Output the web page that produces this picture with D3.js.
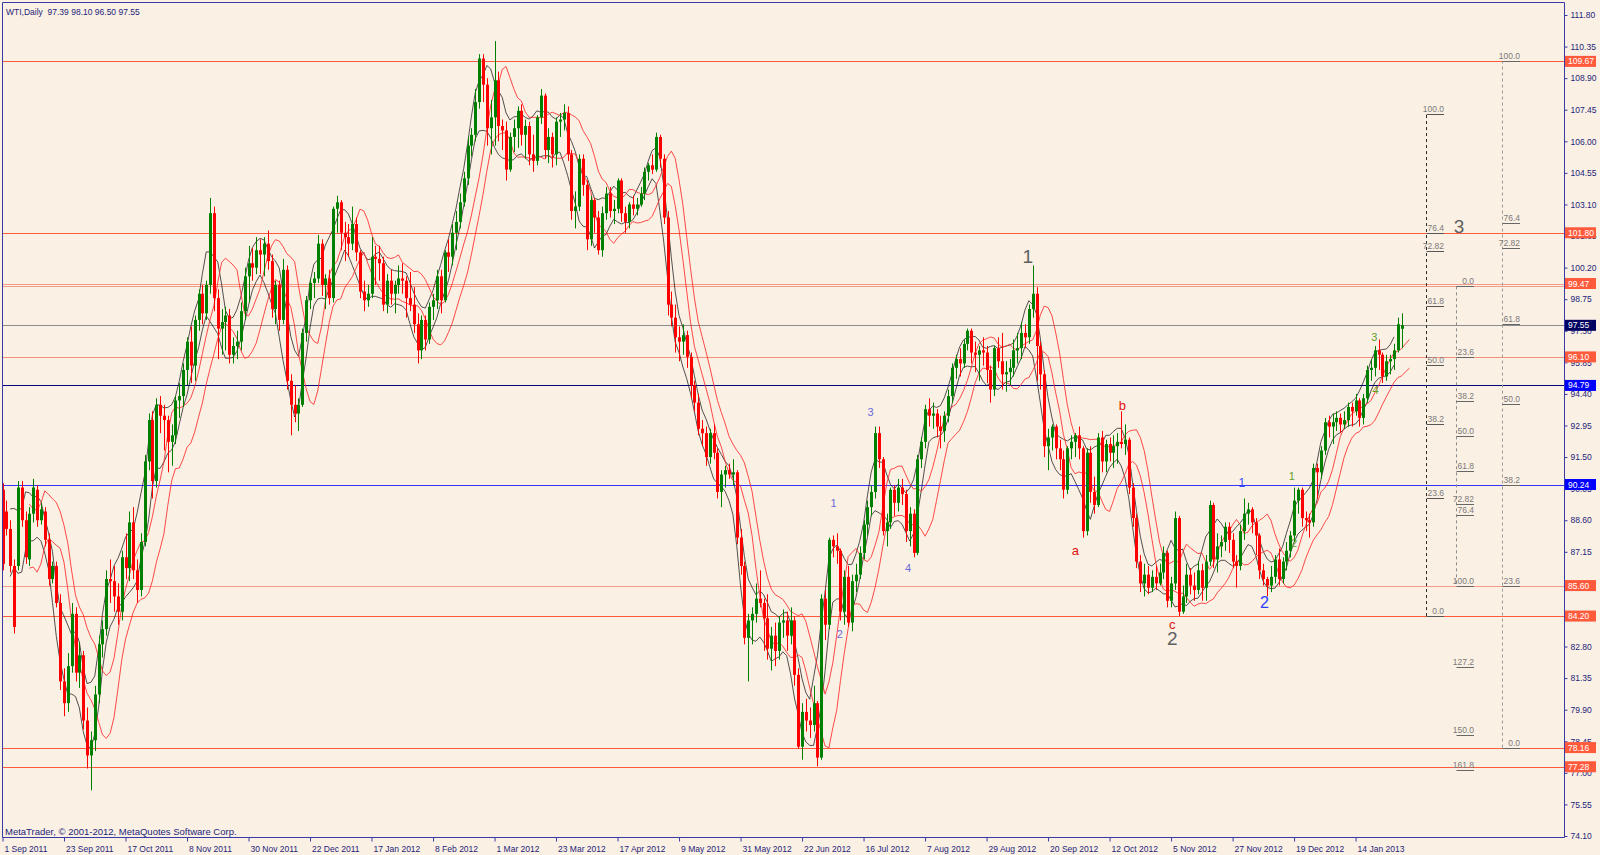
<!DOCTYPE html>
<html><head><meta charset="utf-8">
<script src="https://cdn.jsdelivr.net/npm/d3@7"></script>
<style>body{margin:0;background:#FAF0E4}svg text{font-family:"Liberation Sans",Arial,sans-serif}</style>
</head><body>
<svg id="c" width="1600" height="855"></svg>
<script>
// ---------- DATA ----------
const dateLabels = ["1 Sep 2011","23 Sep 2011","17 Oct 2011","8 Nov 2011","30 Nov 2011","22 Dec 2011","17 Jan 2012","8 Feb 2012","1 Mar 2012","23 Mar 2012","17 Apr 2012","9 May 2012","31 May 2012","22 Jun 2012","16 Jul 2012","7 Aug 2012","29 Aug 2012","20 Sep 2012","12 Oct 2012","5 Nov 2012","27 Nov 2012","19 Dec 2012","14 Jan 2013"];
const dateLabelBars = [0,16,32,48,64,80,96,112,128,144,160,176,192,208,224,240,256,272,288,304,320,336,352];
const priceTicks = [111.80,110.35,108.90,107.45,106.00,104.55,103.10,101.65,100.20,98.75,97.30,95.85,94.40,92.95,91.50,90.05,88.60,87.15,85.70,84.25,82.80,81.35,79.90,78.45,77.00,75.55,74.10];

const opens = [
90.0,89.0,88.2,86.5,86.5,90.1,88.6,86.8,88.9,90.0,88.6,89.0,87.7,85.9,86.5,84.8,
81.2,80.2,81.9,84.3,81.6,82.4,79.4,77.8,78.5,80.6,82.9,83.6,85.9,85.8,85.1,84.4,
86.9,86.4,88.5,86.3,85.4,87.6,91.3,93.2,90.4,93.9,93.4,93.2,92.2,92.5,94.1,94.3,
95.5,96.8,95.7,97.8,99.0,98.1,99.4,102.7,98.8,97.4,97.7,98.0,96.2,96.6,96.8,98.2,
99.8,100.4,100.2,101.0,100.8,101.3,100.5,98.3,99.4,97.8,100.1,95.0,93.9,93.5,93.9,97.2,
98.7,99.5,99.7,101.3,99.4,99.7,98.8,102.9,103.2,101.8,101.6,101.3,102.2,100.9,99.1,98.7,
99.0,100.7,100.6,100.4,98.5,99.6,99.0,99.4,99.7,99.6,98.8,98.5,97.6,96.4,97.8,96.9,
98.4,98.7,99.8,98.7,100.9,100.7,101.8,102.3,103.2,104.3,105.8,106.3,107.8,109.8,108.6,106.6,
107.1,108.8,106.7,106.5,104.7,106.2,106.6,107.4,106.3,106.7,105.4,105.1,107.1,108.1,105.6,106.2,
105.4,106.9,107.0,107.3,105.4,102.8,103.0,105.2,104.0,101.5,103.3,102.5,101.0,102.7,103.6,102.8,
102.9,104.2,102.7,102.3,103.1,102.9,103.1,103.6,104.6,104.9,104.7,106.2,105.2,102.5,98.5,97.9,
97.0,96.8,97.1,96.1,94.8,94.0,92.8,92.6,91.5,92.6,91.7,89.9,90.7,90.9,90.7,90.8,
87.8,86.5,83.2,84.0,84.3,85.0,84.8,84.1,82.7,83.3,82.6,83.9,84.0,83.3,84.0,81.5,
78.2,79.8,79.4,79.2,80.2,77.7,85.0,83.8,87.7,87.4,87.2,84.4,86.0,83.9,85.8,86.1,
87.1,88.4,89.2,89.9,92.6,91.4,88.1,88.5,90.0,89.4,90.1,89.8,88.1,88.9,87.1,91.4,
92.2,93.7,93.4,93.5,92.9,92.7,93.4,94.3,95.6,96.0,95.8,96.7,97.3,96.3,96.2,96.4,
96.3,95.5,94.6,96.5,95.9,95.3,95.4,95.6,96.4,96.5,97.2,97.0,98.3,99.0,96.6,95.3,
92.0,92.4,92.9,91.9,91.4,90.0,91.9,92.2,92.5,91.9,88.1,91.7,89.9,89.3,92.4,91.3,
92.1,91.7,92.0,92.2,92.1,92.3,90.1,88.7,86.7,85.7,86.1,85.5,86.0,85.7,86.2,87.1,
84.9,85.7,88.7,84.4,85.1,86.1,85.6,85.4,86.3,85.5,86.7,89.3,86.8,87.4,87.6,88.3,
87.7,86.7,86.5,88.1,88.9,89.1,88.5,87.9,86.3,85.9,85.6,86.0,86.8,85.9,86.7,87.2,
87.9,89.5,90.0,88.7,88.6,88.5,91.0,90.8,91.8,93.1,92.9,93.1,93.3,93.0,93.2,93.8,
93.6,94.1,93.3,94.2,95.5,95.6,96.4,96.2,95.2,95.9,96.0,96.4,97.39];
const highs = [
90.3,89.5,88.6,86.8,90.4,90.4,89.0,89.2,90.5,90.2,89.4,89.2,88.0,86.7,86.7,85.2,
81.8,82.5,84.8,84.6,83.0,82.6,80.0,78.9,81.0,83.3,84.0,86.3,86.8,86.5,85.7,87.2,
88.0,89.0,89.2,86.8,88.0,91.6,93.5,93.6,94.2,94.3,93.9,93.4,93.0,94.3,94.9,95.8,
97.0,97.5,98.0,99.2,99.4,99.6,103.4,103.0,99.2,98.3,98.4,98.3,97.0,97.3,98.6,100.2,
101.2,101.1,101.6,101.5,101.6,101.9,100.8,99.6,99.6,100.6,100.3,95.3,94.8,94.2,97.4,98.9,
99.7,100.0,101.7,101.5,99.9,100.1,103.0,103.5,103.3,102.3,102.2,103.0,102.5,101.0,99.6,99.4,
101.6,101.2,101.2,100.7,99.9,100.1,99.6,100.3,100.4,99.8,100.0,99.3,98.1,98.0,98.0,98.6,
99.0,100.1,100.1,101.0,101.5,102.2,102.8,103.6,104.6,106.2,106.6,108.4,110.0,110.0,108.9,107.9,
110.6,109.2,107.0,106.9,106.4,107.0,107.6,107.7,107.0,106.9,106.3,107.2,108.4,108.2,106.6,106.4,
107.1,107.3,107.7,107.6,105.6,103.7,105.4,105.4,104.2,103.5,103.4,102.8,103.0,103.9,103.9,103.3,
104.3,104.3,103.0,103.2,103.5,103.4,103.9,104.8,105.0,105.4,106.4,106.3,105.4,102.8,99.1,98.5,
97.5,97.6,97.3,96.3,95.0,94.4,93.2,92.9,92.8,93.0,91.9,90.9,91.1,91.2,91.4,90.9,
88.2,86.7,84.3,84.6,85.7,86.3,85.0,85.2,83.7,83.9,84.2,84.5,84.4,84.6,84.2,81.8,
80.2,80.4,80.0,81.0,80.3,85.2,85.4,87.8,87.9,88.0,87.3,86.3,86.5,86.1,86.6,87.4,
88.6,89.5,90.2,92.9,92.9,91.5,88.9,90.1,90.2,90.5,90.5,90.0,89.2,89.1,91.6,92.4,
93.9,94.2,94.0,93.7,93.4,93.6,94.6,95.8,96.2,96.5,96.9,97.4,97.4,96.8,96.6,97.0,
96.6,95.7,96.6,97.0,97.2,95.9,96.0,96.9,97.2,97.7,97.6,98.5,100.3,99.3,96.8,95.5,
92.8,93.0,93.0,92.3,91.8,92.0,92.5,92.6,92.9,92.0,91.9,92.0,90.6,92.6,92.7,92.3,
92.4,92.5,92.6,93.6,93.0,92.4,90.3,88.9,87.0,86.6,86.5,86.3,86.5,86.6,87.4,87.2,
86.0,89.0,88.8,85.6,86.6,86.4,86.2,86.7,86.6,87.0,89.5,89.4,88.0,87.9,88.5,88.5,
88.0,87.0,88.4,89.6,89.4,89.2,88.7,88.0,86.6,86.0,86.5,87.0,87.3,86.9,87.6,88.1,
90.1,90.1,90.1,89.0,88.9,91.2,91.2,92.0,93.3,93.4,93.5,93.6,93.5,93.6,94.0,94.0,
94.4,94.2,94.4,95.7,96.0,96.6,96.9,96.3,96.2,96.2,96.7,97.9,98.10];
const lows = [
86.3,87.9,86.2,83.4,86.3,88.3,86.6,86.5,88.5,88.3,88.4,87.4,85.6,85.7,84.6,80.8,
79.6,79.8,81.6,81.2,80.9,79.0,77.2,76.2,78.0,80.2,82.3,83.3,84.8,84.4,83.8,84.0,
85.9,85.8,85.9,84.8,85.1,87.4,90.9,89.6,90.1,92.6,91.8,90.8,91.1,92.1,93.3,93.8,
94.8,94.9,95.0,97.3,97.6,97.8,99.0,98.2,96.0,96.2,96.4,95.8,95.8,96.0,96.4,97.8,
98.6,99.6,99.9,99.9,99.8,100.1,97.9,97.6,97.3,97.6,94.6,92.5,93.1,92.7,93.8,96.8,
98.3,98.8,99.5,98.9,98.3,98.5,98.6,101.8,101.0,100.5,100.7,101.0,100.5,98.8,98.2,98.4,
98.8,99.4,99.6,98.2,98.1,98.5,98.1,99.0,99.0,97.9,98.2,97.2,95.8,96.0,96.4,96.7,
97.8,98.3,98.1,98.6,100.0,100.3,101.0,102.0,103.0,104.0,105.3,106.0,107.5,107.8,105.8,105.4,
105.8,106.0,105.6,104.2,104.6,105.5,105.7,105.8,105.2,104.9,104.6,104.9,106.8,105.2,105.0,104.8,
104.9,106.2,106.5,105.1,102.4,102.0,102.8,103.5,101.0,101.2,101.8,100.8,100.7,102.4,102.5,102.2,
102.7,102.3,101.8,102.0,102.6,102.6,103.0,103.3,104.2,104.5,104.6,104.8,102.2,98.0,97.5,96.3,
95.9,96.2,95.6,94.2,93.6,92.5,92.0,91.1,91.2,91.4,89.6,89.2,90.1,90.5,90.2,87.5,
86.1,82.9,81.2,82.9,83.9,84.6,82.6,82.2,81.7,81.9,82.2,83.2,82.6,82.9,81.0,78.1,
77.6,78.9,78.6,78.9,77.3,77.6,83.1,83.6,86.9,86.6,84.0,83.8,83.7,83.5,85.3,85.9,
86.8,87.9,88.8,89.6,91.0,87.9,87.4,88.2,88.8,89.0,89.3,87.6,87.4,86.9,87.0,91.0,
91.9,92.9,92.8,92.4,91.9,92.2,93.1,94.0,95.1,95.2,95.6,96.4,95.8,95.4,95.0,95.7,
94.9,94.0,94.3,95.6,94.6,94.5,94.8,95.2,95.8,96.0,96.5,96.7,97.9,95.0,94.6,91.5,
90.9,91.8,91.4,90.9,89.6,89.8,91.4,91.5,91.4,87.8,87.9,89.4,88.9,89.2,90.8,90.8,
91.3,91.0,91.2,91.9,91.6,89.8,88.3,86.4,85.3,85.1,85.2,85.3,85.4,85.6,85.9,84.6,
84.6,85.4,84.2,84.3,84.8,85.2,84.9,85.2,84.9,84.9,86.5,86.4,86.2,86.9,87.2,87.1,
86.4,85.5,86.3,87.7,88.4,88.0,87.0,85.9,85.6,85.1,85.3,85.7,85.6,85.7,86.3,86.9,
87.6,88.9,88.3,88.1,87.8,88.3,89.6,90.5,91.6,92.4,92.1,92.7,92.6,92.8,92.9,92.9,
93.4,92.9,93.0,94.0,95.0,95.2,95.5,94.9,95.0,95.3,95.5,96.3,96.50];
const closes = [
86.6,88.2,86.5,83.7,90.1,88.6,86.9,88.9,90.1,88.6,89.1,87.7,85.9,86.5,84.8,81.2,
80.2,81.9,84.3,81.6,82.4,79.4,77.8,78.5,80.6,82.9,83.6,85.9,85.8,85.1,84.4,86.9,
86.4,88.5,86.3,85.4,87.6,91.3,93.2,90.4,93.9,93.4,93.2,92.2,92.5,94.1,94.3,95.5,
96.8,95.7,97.8,99.0,98.1,99.4,102.7,98.8,97.4,97.7,98.0,96.2,96.6,96.8,98.2,99.8,
100.4,100.2,101.0,100.8,101.3,100.5,98.3,99.4,97.8,100.1,95.0,93.9,93.5,93.9,97.2,98.7,
99.5,99.7,101.3,99.4,99.7,98.8,102.9,103.2,101.8,101.6,101.3,102.2,100.9,99.1,98.7,99.0,
100.7,100.6,100.4,98.5,99.6,99.0,99.4,99.7,99.6,98.8,98.5,97.6,96.4,97.8,96.9,98.4,
98.7,99.8,98.7,100.9,100.7,101.8,102.3,103.2,104.3,105.8,106.3,107.8,109.8,108.6,106.6,107.1,
108.8,106.7,106.5,104.7,106.2,106.6,107.4,106.3,106.7,105.4,105.1,107.1,108.1,105.6,106.2,105.4,
106.9,107.0,107.3,105.4,102.8,103.0,105.2,104.0,101.5,103.3,102.5,101.0,102.7,103.6,102.8,102.9,
104.2,102.7,102.3,103.1,102.9,103.1,103.6,104.6,104.9,104.7,106.2,105.2,102.5,98.5,97.9,97.0,
96.8,97.1,96.1,94.8,94.0,92.8,92.6,91.5,92.6,91.7,89.9,90.7,90.9,90.7,90.8,87.8,
86.5,83.2,84.0,84.3,85.0,84.8,84.1,82.7,83.3,82.6,83.9,84.0,83.3,84.0,81.5,78.2,
79.8,79.4,79.2,80.2,77.7,85.0,83.8,87.7,87.4,87.2,84.4,86.0,83.9,85.8,86.1,87.1,
88.4,89.2,89.9,92.6,91.4,88.1,88.5,90.0,89.4,90.1,89.8,88.1,88.9,87.1,91.4,92.2,
93.7,93.4,93.5,92.9,92.7,93.4,94.3,95.6,96.0,95.8,96.7,97.3,96.3,96.2,96.4,96.3,
95.5,94.6,96.5,95.9,95.3,95.4,95.6,96.4,96.5,97.2,97.0,98.3,99.0,96.6,95.3,92.0,
92.4,92.9,91.9,91.4,90.0,91.9,92.2,92.5,91.9,88.1,91.7,89.9,89.3,92.4,91.3,92.1,
91.7,92.0,92.2,92.1,92.3,90.1,88.7,86.7,85.7,86.1,85.5,86.0,85.7,86.2,87.1,84.9,
85.7,88.7,84.4,85.1,86.1,85.6,85.4,86.3,85.5,86.7,89.3,86.8,87.4,87.6,88.3,87.7,
86.7,86.5,88.1,88.9,89.1,88.5,87.9,86.3,85.9,85.6,86.0,86.8,85.9,86.7,87.2,87.9,
89.5,90.0,88.7,88.6,88.5,91.0,90.8,91.8,93.1,92.9,93.1,93.3,93.0,93.2,93.8,93.6,
94.1,93.3,94.2,95.5,95.6,96.4,96.2,95.2,95.9,96.0,96.4,97.6,97.55];

// horizontal levels (price) and which get a price tag
const levelPrices = [109.67,101.80,99.47,99.34,97.55,96.10,94.79,90.24,85.60,84.20,78.16,77.28];
const levelTagged = [true,true,true,false,true,true,true,true,true,true,true,true];

// fibonacci tools
const fib1Levels = [0,23.6,38.2,50,61.8,72.82,76.4,100];
const fib1Text = ["0.0","23.6","38.2","50.0","61.8","72.82","76.4","100.0"];
const fib1Range = [84.20,107.25];
const fib2Levels = [0,23.6,38.2,50,61.8,72.82,76.4,100,127.2,150,161.8];
const fib2Text = ["0.0","23.6","38.2","50.0","61.8","72.82","76.4","100.0","127.2","150.0","161.8"];
const fib2Range = [99.34,85.60];
const fib3Levels = [0,23.6,38.2,50,61.8,72.82,76.4,100];
const fib3Text = ["0.0","23.6","38.2","50.0","61.8","72.82","76.4","100.0"];
const fib3Range = [78.16,109.67];
const fibBars = [370.2,378.1,390.0];   // bar position of each fib tool

// Elliott wave labels: text, bar position, price
const waveText  = ["1","3","2","c","a","b","3","1","4","2","1","2","1","2","3","4"];
const waveBar   = [266.7,378.9,304.3,304.3,279.1,291.3,225.8,216.2,235.6,217.8,322.4,328.3,335.4,336.0,356.9,357.2];
const wavePrice = [100.73,102.11,83.16,83.81,87.23,93.85,93.56,89.39,86.39,83.39,90.32,84.80,90.65,87.56,97.03,94.59];
const waveKind  = ["big","big","big","red","red","red","slate","slate","slate","slate","blue","bigblue","green","green","green","green"];

// ---------- STYLES ----------
const levelColor = ["#FF5A3C","#FF5A3C","#F49A88","#F49A88","#8C8C8C","#F3907C","#000080","#3434FF","#F49A88","#FF5A3C","#FF5A3C","#FF5A3C"];
const tagColor   = ["#FF5A3C","#FF5A3C","#FF5A3C",null,"#000060","#FF5A3C","#0000FF","#0000FF","#FF5A3C","#FF5A3C","#FF5A3C","#FF5A3C"];
const waveStyle = {
  big:{size:19,color:"#5f5f5f"}, red:{size:13,color:"#E01010"}, slate:{size:11,color:"#6A6AD8"},
  blue:{size:12,color:"#3A4CFF"}, bigblue:{size:16,color:"#2A40FF"}, green:{size:11,color:"#5E9E2A"}
};

// ---------- CHART ----------
const W=1600,H=855, L=2,T=2,R=1564,B=837, step=3.844;
const svg=d3.select("#c");
const x=d3.scaleLinear().domain([0,400]).range([2.5,2.5+400*step]);
const y=d3.scaleLinear().domain([74.10,111.80]).range([836,15]);
const n=closes.length;

svg.append("rect").attr("width",W).attr("height",H).attr("fill","#FAF0E4");
svg.append("clipPath").attr("id","clip").append("rect").attr("x",L).attr("y",T).attr("width",R-L).attr("height",B-T);
const g=svg.append("g").attr("clip-path","url(#clip)");

// horizontal lines
g.selectAll(".lvl").data(levelPrices).join("line")
 .attr("x1",L).attr("x2",R).attr("y1",d=>Math.round(y(d))+0.5).attr("y2",d=>Math.round(y(d))+0.5)
 .attr("stroke",(d,i)=>levelColor[i]).attr("stroke-width",1);

// indicator bands (moving averages of highs / lows)
function sma(arr,p){return arr.map((v,i)=>i<p-1?null:d3.mean(arr.slice(i-p+1,i+1)));}
function band(arr,p,shift,color,op){
  const v=sma(arr,p);
  const pts=v.map((d,i)=>[i+shift,d]).filter(d=>d[1]!=null);
  g.append("path").attr("d",d3.line().x(d=>x(d[0])).y(d=>y(d[1]))(pts))
   .attr("fill","none").attr("stroke",color).attr("stroke-width",1).attr("opacity",op);
}
band(highs,5,-2,"#1a1a1a",0.75);
band(lows,5,-2,"#1a1a1a",0.75);
band(highs,6,2,"#FF2A2A",0.85);
band(lows,6,2,"#FF2A2A",0.85);

// candles
const idx=d3.range(n);
const col=i=>closes[i]>=opens[i]?"#008000":"#FF0000";
g.selectAll(".wk").data(idx).join("line")
 .attr("x1",i=>Math.round(x(i))+0.5).attr("x2",i=>Math.round(x(i))+0.5)
 .attr("y1",i=>y(highs[i])).attr("y2",i=>y(lows[i])).attr("stroke",col).attr("stroke-width",1);
g.selectAll(".bd").data(idx).join("rect")
 .attr("x",i=>Math.round(x(i))-1).attr("width",3)
 .attr("y",i=>y(Math.max(opens[i],closes[i])))
 .attr("height",i=>Math.max(1,Math.abs(y(opens[i])-y(closes[i]))))
 .attr("fill",col);

// fibonacci tools
function fib(levels,texts,range,bar,vcol,segCol,extentTo){
  const fx=Math.round(x(bar))+0.5, fx2=fx+17.5;
  const pv=l=>range[0]+(range[1]-range[0])*l/100;
  g.append("line").attr("x1",fx).attr("x2",fx)
   .attr("y1",y(pv(0))).attr("y2",y(pv(extentTo)))
   .attr("stroke",vcol).attr("stroke-dasharray","3,3").attr("stroke-width",1);
  levels.forEach((l,i)=>{
    const yy=Math.round(y(pv(l)))+0.5;
    g.append("line").attr("x1",fx).attr("x2",fx2).attr("y1",yy).attr("y2",yy).attr("stroke",segCol);
    g.append("text").attr("x",fx2).attr("y",yy-2.5).attr("text-anchor","end")
     .attr("font-size",8.5).attr("fill","#7a7a7a").text(texts[i]);
  });
}
fib(fib1Levels,fib1Text,fib1Range,fibBars[0],"#2a2a2a","#555",100);
fib(fib2Levels,fib2Text,fib2Range,fibBars[1],"#8a8a8a","#666",100);
fib(fib3Levels,fib3Text,fib3Range,fibBars[2],"#9a9a9a","#666",100);

// wave labels
g.selectAll(".wv").data(waveText).join("text")
 .attr("x",(d,i)=>x(waveBar[i])).attr("y",(d,i)=>y(wavePrice[i]))
 .attr("text-anchor","middle").attr("dominant-baseline","central")
 .attr("font-size",(d,i)=>waveStyle[waveKind[i]].size)
 .attr("fill",(d,i)=>waveStyle[waveKind[i]].color).text(d=>d);

// title + copyright
svg.append("text").attr("x",6).attr("y",15).attr("font-size",8.5).attr("fill","#1E1E7A")
 .style("white-space","pre").text("WTI,Daily  97.39 98.10 96.50 97.55");
svg.append("text").attr("x",5).attr("y",835).attr("font-size",9.5).attr("fill","#1E1E7A")
 .text("MetaTrader, \u00A9 2001-2012, MetaQuotes Software Corp.");

// frame
svg.append("path").attr("d",`M${L+0.5},${B+0.5}V${T+0.5}H${R+0.5}V${B+0.5}H${L+0.5}`)
 .attr("fill","none").attr("stroke","#3A3AA6").attr("stroke-width",1);

// right axis
const ya=svg.append("g").attr("transform",`translate(${R+0.5},0)`)
 .call(d3.axisRight(y).tickValues(priceTicks).tickFormat(d3.format(".2f")).tickSize(3).tickPadding(3));
ya.select(".domain").remove();
ya.selectAll("line").attr("stroke","#3A3AA6");
ya.selectAll("text").attr("font-size",8.5).attr("fill","#24247A").attr("font-family","Liberation Sans");

// bottom axis
const xa=svg.append("g").attr("transform",`translate(0,${B+0.5})`)
 .call(d3.axisBottom(x).tickValues(dateLabelBars).tickFormat((d,i)=>dateLabels[i]).tickSize(4).tickPadding(4));
xa.select(".domain").remove();
xa.selectAll("line").attr("stroke","#3A3AA6");
xa.selectAll("text").attr("font-size",8.5).attr("fill","#24247A").attr("text-anchor","start").attr("dx",1.5).attr("font-family","Liberation Sans");

// price tags
levelPrices.forEach((p,i)=>{
  if(!levelTagged[i])return;
  const yy=y(p);
  svg.append("rect").attr("x",R+1).attr("y",yy-5.5).attr("width",31).attr("height",11).attr("fill",tagColor[i]);
  svg.append("text").attr("x",R+4).attr("y",yy).attr("dominant-baseline","central")
   .attr("font-size",8.5).attr("fill","#fff").text(p.toFixed(2));
});
</script>
</body></html>
